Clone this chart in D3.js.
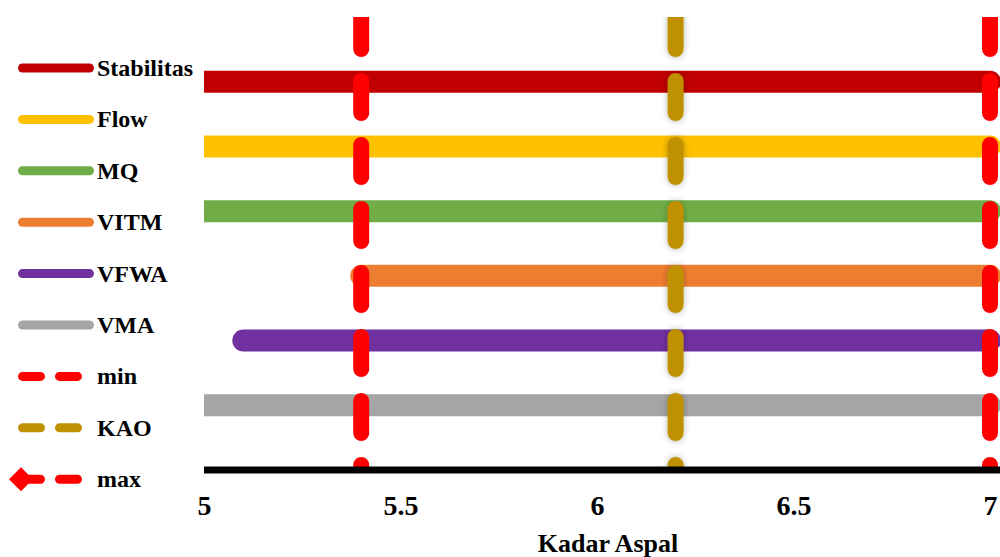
<!DOCTYPE html>
<html>
<head>
<meta charset="utf-8">
<script src="https://cdn.jsdelivr.net/npm/d3@7"></script>
<style>
  html, body { margin: 0; padding: 0; background: #fff; }
  svg { display: block; }
  text { font-family: "Liberation Serif", "Times New Roman", serif; font-weight: bold; fill: #000; }
</style>
</head>
<body>
<svg id="chart" width="1000" height="557"></svg>
<script>
// Asphalt content ranges that satisfy each mix criterion
const categories = ["Stabilitas", "Flow", "MQ", "VITM", "VFWA", "VMA"];
const rangeStart = [5, 5, 5, 5.4, 5.1, 5];
const rangeEnd   = [7, 7, 7, 7, 7, 7];
const barColors  = ["#C00000", "#FFC000", "#70AD47", "#ED7D31", "#7030A0", "#A5A5A5"];

// Reference lines: minimum, optimum (KAO) and maximum asphalt content
const refNames  = ["min", "KAO", "max"];
const refValues = [5.4, 6.2, 7];
const refColors = ["#FF0000", "#BF9000", "#FF0000"];

const xTicks = [5, 5.5, 6, 6.5, 7];
const xTitle = "Kadar Aspal";

const svg = d3.select("#chart");
const W = 1000, H = 557;
const plotLeft = 204, plotRight = 990, plotTop = 17, plotBottom = 470;

const x = d3.scaleLinear().domain([5, 7]).range([plotLeft, plotRight]);
const y = d3.scaleLinear().domain([0, 7]).range([plotBottom, plotTop]);

const defs = svg.append("defs");
defs.append("clipPath").attr("id", "plotClip")
  .append("rect").attr("x", plotLeft).attr("y", plotTop)
  .attr("width", W - plotLeft).attr("height", plotBottom - plotTop);
// soft halo for the KAO line (user-space region, since a vertical line has zero-width bbox)
const shadow = defs.append("filter").attr("id", "soft")
  .attr("filterUnits", "userSpaceOnUse")
  .attr("x", 0).attr("y", 0).attr("width", W).attr("height", H);
shadow.append("feDropShadow").attr("dx", 0).attr("dy", 0).attr("stdDeviation", 3)
  .attr("flood-color", "#000").attr("flood-opacity", 0.3);

const plot = svg.append("g").attr("clip-path", "url(#plotClip)");

// Horizontal range bars, top to bottom
const barRows = categories.map((c, i) => ({
  name: c, start: rangeStart[i], end: rangeEnd[i], color: barColors[i], level: categories.length - i
}));
plot.selectAll("line.bar").data(barRows).join("line")
  .attr("class", "bar")
  .attr("x1", d => x(d.start)).attr("x2", d => x(d.end))
  .attr("y1", d => y(d.level)).attr("y2", d => y(d.level))
  .attr("stroke", d => d.color).attr("stroke-width", 22).attr("stroke-linecap", "round");

// Dashed vertical reference lines
const refRows = refNames.map((n, i) => ({ name: n, value: refValues[i], color: refColors[i] }));
plot.selectAll("line.ref").data(refRows).join("line")
  .attr("class", "ref")
  .attr("x1", d => x(d.value)).attr("x2", d => x(d.value))
  .attr("y1", y(7)).attr("y2", y(0) + 10)
  .attr("stroke", d => d.color).attr("stroke-width", 16).attr("stroke-linecap", "round")
  .attr("stroke-dasharray", "32,32")
  .attr("filter", d => d.name === "KAO" ? "url(#soft)" : null);

// Horizontal axis
svg.append("line")
  .attr("x1", x(5)).attr("x2", W).attr("y1", plotBottom).attr("y2", plotBottom)
  .attr("stroke", "#000").attr("stroke-width", 7);

const xAxis = d3.axisBottom(x).tickValues(xTicks).tickSize(0).tickPadding(0)
  .tickFormat(d3.format("~g"));
const gx = svg.append("g").attr("transform", `translate(0,${plotBottom})`).call(xAxis);
gx.select(".domain").remove();
gx.selectAll("text")
  .attr("dy", null).attr("y", 45)
  .style("font-family", "'Liberation Serif', 'Times New Roman', serif")
  .style("font-weight", "bold").style("font-size", "28px").attr("fill", "#000");

svg.append("text")
  .attr("x", 608).attr("y", 552).attr("text-anchor", "middle")
  .style("font-size", "26px").text(xTitle);

// Legend
const legendItems = [
  ...barRows.map(d => ({ name: d.name, color: d.color, type: "solid" })),
  ...refRows.map(d => ({ name: d.name, color: d.color, type: d.name === "max" ? "marker" : "dash" }))
];
const lg = svg.append("g");
const item = lg.selectAll("g").data(legendItems).join("g")
  .attr("transform", (d, i) => `translate(0,${68 + i * 51.4})`);

item.filter(d => d.type === "solid").append("line")
  .attr("x1", 22.5).attr("x2", 89.5).attr("y1", 0).attr("y2", 0)
  .attr("stroke", d => d.color).attr("stroke-width", 9).attr("stroke-linecap", "round");

item.filter(d => d.type !== "solid").append("line")
  .attr("x1", 22.5).attr("x2", 78.5).attr("y1", 0).attr("y2", 0)
  .attr("stroke", d => d.color).attr("stroke-width", 9).attr("stroke-linecap", "round")
  .attr("stroke-dasharray", "18,19");

item.filter(d => d.type === "marker").append("path")
  .attr("transform", "translate(21,0)")
  .attr("d", "M0,-12L12,0L0,12L-12,0Z")
  .attr("fill", d => d.color);

item.append("text")
  .attr("x", 97).attr("y", 8)
  .style("font-size", "24px")
  .text(d => d.name);
</script>
</body>
</html>
